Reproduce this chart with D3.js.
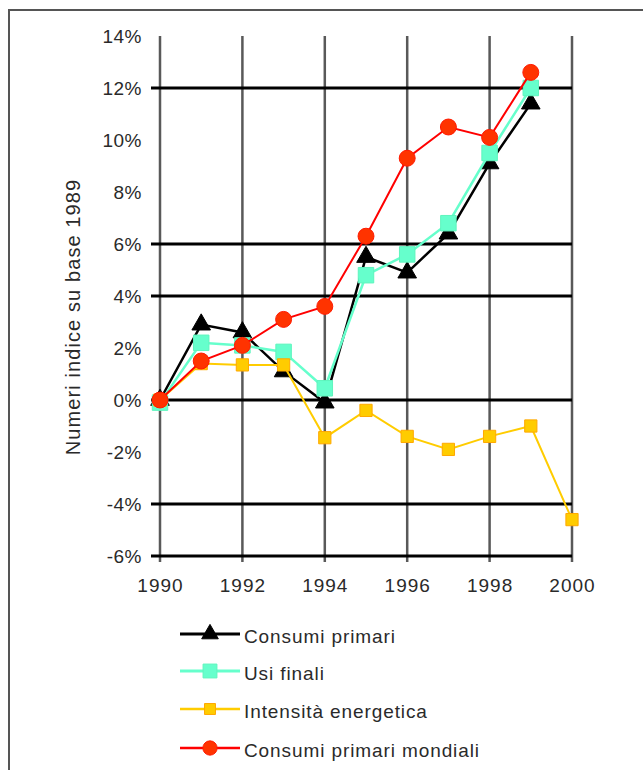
<!DOCTYPE html>
<html>
<head>
<meta charset="utf-8">
<script src="https://cdn.jsdelivr.net/npm/d3@7"></script>
<style>
  body { margin: 0; background: #fff; }
  svg text { font-family: Arial, "Liberation Sans", sans-serif; fill: #2a2a2a; }
</style>
</head>
<body>
<script>
// data (percent change vs 1989)
var years = [1990, 1991, 1992, 1993, 1994, 1995, 1996, 1997, 1998, 1999, 2000];
var consumiPrimari = [0, 2.9, 2.6, 1.1, -0.1, 5.5, 4.9, 6.4, 9.1, 11.4, null];
var usiFinali = [-0.1, 2.2, 2.1, 1.85, 0.45, 4.8, 5.6, 6.8, 9.5, 12.0, null];
var intensita = [0, 1.4, 1.35, 1.35, -1.45, -0.4, -1.4, -1.9, -1.4, -1.0, -4.6];
var mondiali = [0, 1.5, 2.1, 3.1, 3.6, 6.3, 9.3, 10.5, 10.1, 12.6, null];

var seriesNames = ["Consumi primari", "Usi finali", "Intensità energetica", "Consumi primari mondiali"];
var yTicks = [14, 12, 10, 8, 6, 4, 2, 0, -2, -4, -6];
var yGrid = [12, 6, 4, 0, -4, -6];
var xTicks = [1990, 1992, 1994, 1996, 1998, 2000];

var w = 643, h = 770;

var svg = d3.select("body").append("svg").attr("width", w).attr("height", h);

// outer frame
svg.append("rect")
  .attr("x", 9).attr("y", 10)
  .attr("width", 700).attr("height", 800)
  .attr("fill", "none")
  .attr("stroke", "#555")
  .attr("stroke-width", 2);

var x = d3.scaleLinear().domain([1990, 2000]).range([160, 572]);
var y = d3.scaleLinear().domain([-6, 14]).range([556, 36]);

// vertical grid (grey)
svg.append("g").selectAll("line")
  .data(xTicks).enter().append("line")
  .attr("x1", function(d){ return x(d); })
  .attr("x2", function(d){ return x(d); })
  .attr("y1", y(14))
  .attr("y2", y(-6) + 6)
  .attr("stroke", "#595959")
  .attr("stroke-width", 2.5);

// horizontal grid (black)
svg.append("g").selectAll("line")
  .data(yGrid).enter().append("line")
  .attr("x1", x(1990) - 9)
  .attr("x2", x(2000))
  .attr("y1", function(d){ return y(d); })
  .attr("y2", function(d){ return y(d); })
  .attr("stroke", "#000")
  .attr("stroke-width", 3);

// axes labels
var yAxis = svg.append("g")
  .attr("transform", "translate(" + (x(1990) - 18) + ",0)")
  .call(d3.axisLeft(y).tickValues(yTicks).tickSize(0).tickFormat(function(d){ return d + "%"; }));
yAxis.select(".domain").remove();
yAxis.selectAll("text")
  .attr("x", 0)
  .style("font-size", "19px")
  .style("letter-spacing", "0.5px")
  .style("font-family", "Arial, 'Liberation Sans', sans-serif")
  .attr("fill", "#2a2a2a");

var xAxis = svg.append("g")
  .attr("transform", "translate(0," + (y(-6) + 22) + ")")
  .call(d3.axisBottom(x).tickValues(xTicks).tickSize(0).tickFormat(d3.format("d")));
xAxis.select(".domain").remove();
xAxis.selectAll("text")
  .attr("y", 0)
  .style("font-size", "19px")
  .style("letter-spacing", "1px")
  .style("font-family", "Arial, 'Liberation Sans', sans-serif")
  .attr("fill", "#2a2a2a");

svg.append("text")
  .attr("transform", "translate(80,317) rotate(-90)")
  .attr("text-anchor", "middle")
  .style("font-size", "20px")
  .style("letter-spacing", "1.1px")
  .text("Numeri indice su base 1989");

// series
var series = [
  { name: seriesNames[0], values: consumiPrimari, stroke: "#000", fill: "#000", edge: "#000", shape: d3.symbolTriangle, size: 150, width: 2.5 },
  { name: seriesNames[1], values: usiFinali, stroke: "#66ffcc", fill: "#66ffcc", edge: "#5ef5bd", shape: d3.symbolSquare, size: 240, width: 2.5 },
  { name: seriesNames[2], values: intensita, stroke: "#ffcc00", fill: "#ffcc00", edge: "#ffa800", shape: d3.symbolSquare, size: 150, width: 2 },
  { name: seriesNames[3], values: mondiali, stroke: "#ff0000", fill: "#ff3300", edge: "#ff1a00", shape: d3.symbolCircle, size: 200, width: 2 }
];

var line = d3.line()
  .defined(function(d){ return d.v != null; })
  .x(function(d){ return x(d.yr); })
  .y(function(d){ return y(d.v); });

series.forEach(function(s) {
  var pts = years.map(function(yr, i){ return { yr: yr, v: s.values[i] }; });
  var g = svg.append("g");
  g.append("path")
    .datum(pts)
    .attr("d", line)
    .attr("fill", "none")
    .attr("stroke", s.stroke)
    .attr("stroke-width", s.width);
  g.selectAll("path.m")
    .data(pts.filter(function(d){ return d.v != null; }))
    .enter().append("path")
    .attr("class", "m")
    .attr("d", d3.symbol().type(s.shape).size(s.size))
    .attr("transform", function(d){ return "translate(" + x(d.yr) + "," + y(d.v) + ")"; })
    .attr("fill", s.fill)
    .attr("stroke", s.edge)
    .attr("stroke-width", 1);
});

// legend
var legend = svg.append("g").selectAll("g")
  .data(series).enter().append("g")
  .attr("transform", function(d, i){ return "translate(0," + [634, 671, 709, 748][i] + ")"; });

legend.append("line")
  .attr("x1", 180).attr("x2", 240)
  .attr("stroke", function(d){ return d.stroke; })
  .attr("stroke-width", function(d){ return d.width + 0.5; });

legend.append("path")
  .attr("d", function(d){ return d3.symbol().type(d.shape).size(d.size * 0.8)(); })
  .attr("transform", "translate(210,0)")
  .attr("fill", function(d){ return d.fill; })
  .attr("stroke", function(d){ return d.edge; });

legend.append("text")
  .attr("x", 244)
  .attr("y", 4)
  .attr("dominant-baseline", "middle")
  .style("font-size", "19px")
  .style("letter-spacing", "0.9px")
  .text(function(d){ return d.name; });
</script>
</body>
</html>
